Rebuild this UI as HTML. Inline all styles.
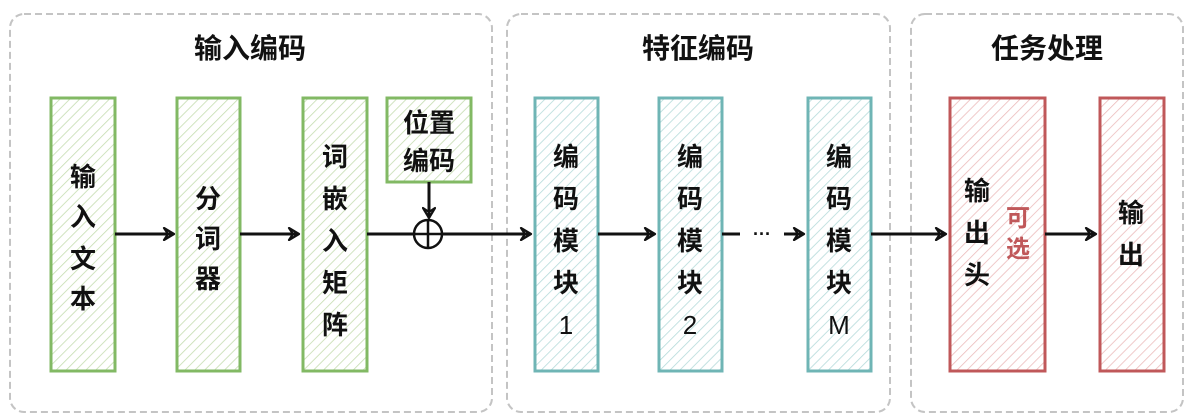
<!DOCTYPE html>
<html><head><meta charset="utf-8"><style>
body{margin:0;background:#fff;}
svg{display:block}
text{font-family:"Liberation Sans","Noto Sans CJK SC",sans-serif;}
</style></head><body>
<svg width="1189" height="416" viewBox="0 0 1189 416">
<defs>
<pattern id="hg" width="7" height="7" patternUnits="userSpaceOnUse" patternTransform="rotate(45)"><rect width="7" height="7" fill="#fff"/><line x1="0" y1="0" x2="0" y2="7" stroke="#c5ddb0" stroke-width="1.6"/></pattern>
<pattern id="hb" width="7" height="7" patternUnits="userSpaceOnUse" patternTransform="rotate(45)"><rect width="7" height="7" fill="#fff"/><line x1="0" y1="0" x2="0" y2="7" stroke="#b5dbda" stroke-width="1.6"/></pattern>
<pattern id="hr" width="7" height="7" patternUnits="userSpaceOnUse" patternTransform="rotate(45)"><rect width="7" height="7" fill="#fff"/><line x1="0" y1="0" x2="0" y2="7" stroke="#ecbcbc" stroke-width="1.6"/></pattern>
<marker id="ar" markerWidth="14" markerHeight="14" refX="12" refY="7" orient="auto" markerUnits="userSpaceOnUse"><path d="M2,1 L12,7 L2,13 L6,7 Z" fill="none" stroke="#111" stroke-width="2.2" stroke-linejoin="round"/></marker>
</defs>
<g fill="none" stroke="#c4c4c4" stroke-width="2" stroke-dasharray="7,4">
<rect x="10" y="14" width="482" height="398" rx="14"/>
<rect x="507" y="14" width="383" height="398" rx="14"/>
<rect x="911" y="14" width="272" height="398" rx="14"/>
</g>
<g font-size="28" font-weight="bold" fill="#111" text-anchor="middle">
<text x="250" y="58">输入编码</text>
<text x="698" y="58">特征编码</text>
<text x="1047" y="58">任务处理</text>
</g>
<g stroke-width="3">
<rect x="51" y="98" width="64" height="273" fill="url(#hg)" stroke="#82b964"/>
<rect x="177" y="98" width="63" height="273" fill="url(#hg)" stroke="#82b964"/>
<rect x="303" y="98" width="64" height="273" fill="url(#hg)" stroke="#82b964"/>
<rect x="387" y="98" width="84" height="84" fill="url(#hg)" stroke="#82b964"/>
<rect x="535" y="98" width="63" height="273" fill="url(#hb)" stroke="#6fb5b5"/>
<rect x="659" y="98" width="63" height="273" fill="url(#hb)" stroke="#6fb5b5"/>
<rect x="808" y="98" width="63" height="273" fill="url(#hb)" stroke="#6fb5b5"/>
<rect x="950" y="98" width="95" height="273" fill="url(#hr)" stroke="#c0585a"/>
<rect x="1100" y="98" width="64" height="273" fill="url(#hr)" stroke="#c0585a"/>
</g>
<g stroke="#111" stroke-width="3" fill="none">
<line x1="115" y1="234" x2="174" y2="234" marker-end="url(#ar)"/>
<line x1="240" y1="234" x2="299" y2="234" marker-end="url(#ar)"/>
<line x1="367" y1="234" x2="414" y2="234"/>
<circle cx="428" cy="234" r="14" stroke-width="2.5"/>
<line x1="428" y1="220" x2="428" y2="248" stroke-width="2.5"/>
<line x1="414" y1="234" x2="442" y2="234" stroke-width="2.5"/>
<line x1="429" y1="182" x2="429" y2="218" marker-end="url(#ar)"/>
<line x1="442" y1="234" x2="531" y2="234" marker-end="url(#ar)"/>
<line x1="598" y1="234" x2="655" y2="234" marker-end="url(#ar)"/>
<line x1="722" y1="234" x2="740" y2="234"/>
<line x1="784" y1="234" x2="804" y2="234" marker-end="url(#ar)"/>
<line x1="871" y1="234" x2="946" y2="234" marker-end="url(#ar)"/>
<line x1="1045" y1="234" x2="1096" y2="234" marker-end="url(#ar)"/>
</g>
<text x="762" y="240" font-size="18" fill="#111" text-anchor="middle" font-weight="bold">···</text>
<g font-size="26" fill="#111" text-anchor="middle" font-weight="bold">
<text x="83" y="186">输</text><text x="83" y="226">入</text><text x="83" y="268">文</text><text x="83" y="308">本</text>
<text x="208" y="208">分</text><text x="208" y="248">词</text><text x="208" y="288">器</text>
<text x="335" y="166">词</text><text x="335" y="208">嵌</text><text x="335" y="250">入</text><text x="335" y="292">矩</text><text x="335" y="334">阵</text>
<text x="429" y="132">位置</text><text x="429" y="170">编码</text>
<text x="566" y="166">编</text><text x="566" y="208">码</text><text x="566" y="250">模</text><text x="566" y="292">块</text><text x="566" y="334" font-weight="normal">1</text>
<text x="690" y="166">编</text><text x="690" y="208">码</text><text x="690" y="250">模</text><text x="690" y="292">块</text><text x="690" y="334" font-weight="normal">2</text>
<text x="839" y="166">编</text><text x="839" y="208">码</text><text x="839" y="250">模</text><text x="839" y="292">块</text><text x="839" y="334" font-weight="normal">M</text>
<text x="977" y="200">输</text><text x="977" y="242">出</text><text x="977" y="284">头</text>
<text x="1131" y="222">输</text><text x="1131" y="264">出</text>
</g>
<g font-size="24" fill="#c0585a" text-anchor="middle" font-weight="bold">
<text x="1018" y="226">可</text><text x="1018" y="257">选</text>
</g>
</svg>
</body></html>
